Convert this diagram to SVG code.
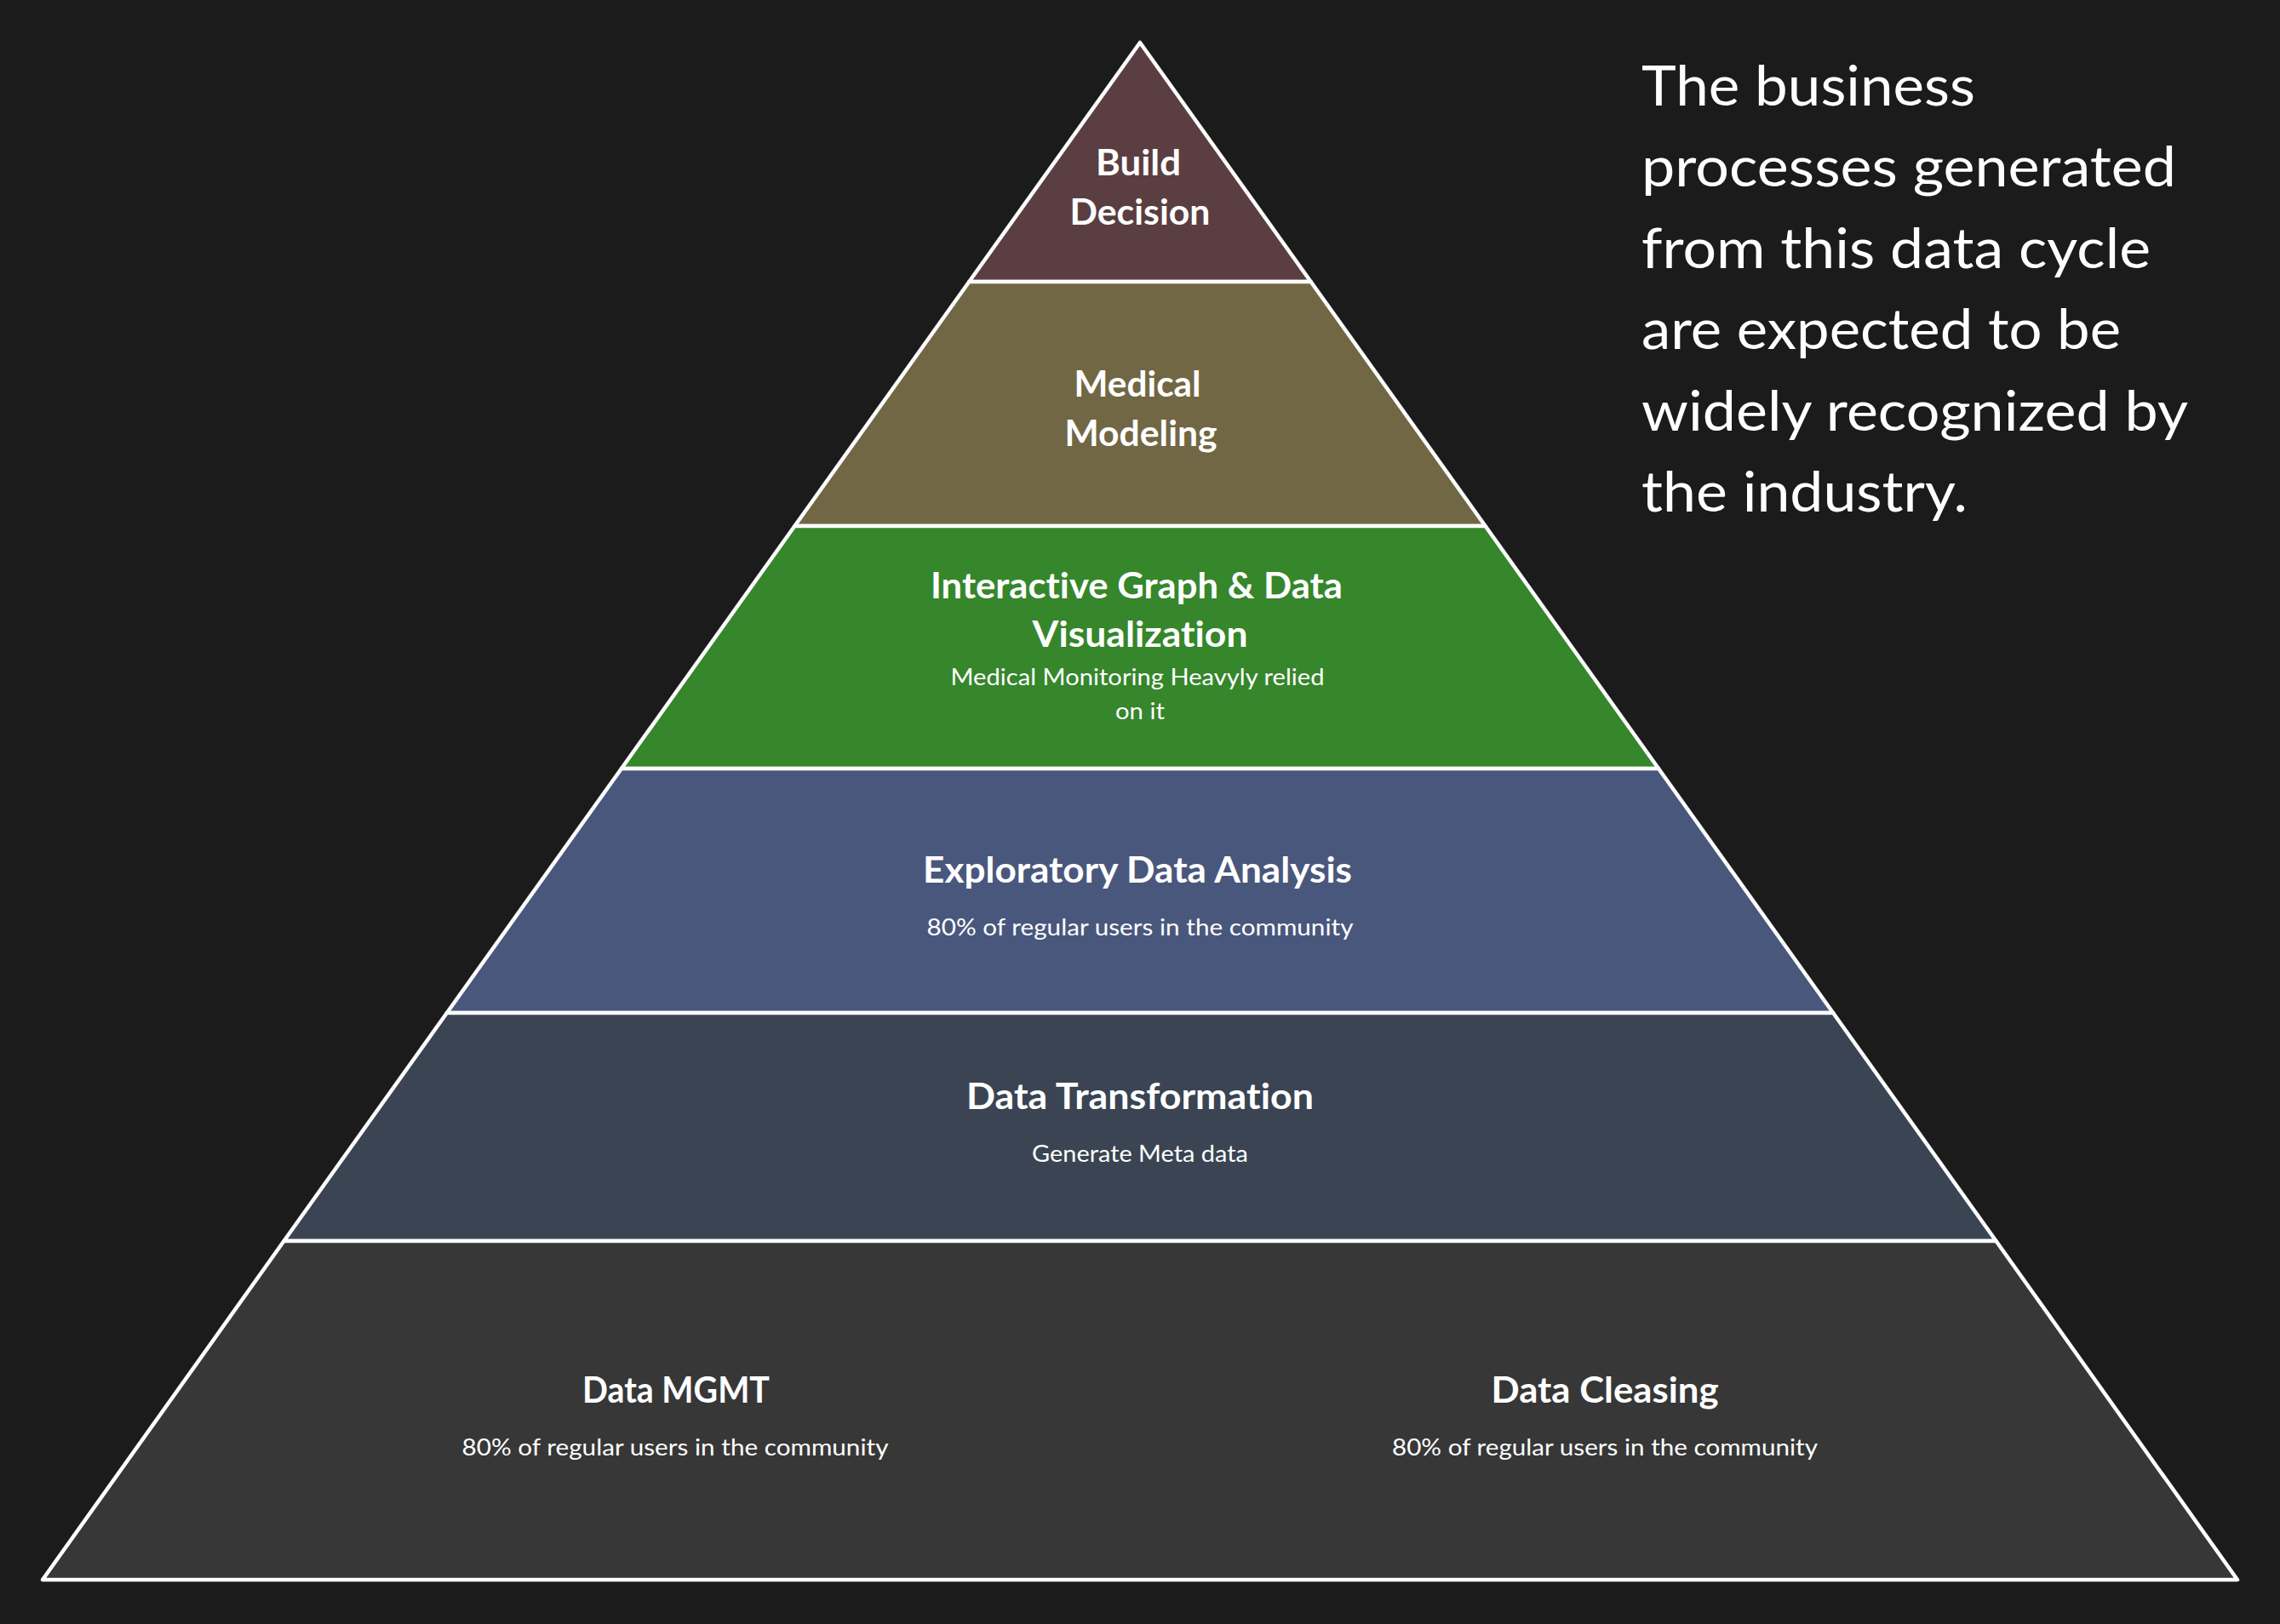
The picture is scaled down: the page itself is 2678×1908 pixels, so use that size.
<svg xmlns="http://www.w3.org/2000/svg" width="2678" height="1908" viewBox="0 0 2678 1908">
  <style>
    .layer { stroke: #ffffff; stroke-width: 4.5; stroke-linejoin: round; }
    text { font-variant-ligatures: none; font-feature-settings: "liga" 0, "dlig" 0; }
    .title { font-family: Lato, "Noto Sans", "Liberation Sans", sans-serif; font-weight: 700; font-size: 42px; fill: #ffffff; text-anchor: middle; }
    .sub { font-family: Lato, "Noto Sans", "Liberation Sans", sans-serif; font-weight: 400; font-size: 27px; fill: #ffffff; text-anchor: middle; }
    .note { font-family: Lato, "Noto Sans", "Liberation Sans", sans-serif; font-weight: 400; font-size: 66px; fill: #ffffff; }
  </style>
  <rect x="0" y="0" width="2678" height="1908" fill="#1b1b1b"/>

  <g id="level-build-decision">
    <polygon class="layer" fill="#5a3e41" points="1339,50 1539.7,331 1138.3,331"/>
    <text class="title" x="1337" y="206" textLength="100" lengthAdjust="spacingAndGlyphs">Build</text>
    <text class="title" x="1339" y="264" textLength="165" lengthAdjust="spacingAndGlyphs">Decision</text>
  </g>

  <g id="level-medical-modeling">
    <polygon class="layer" fill="#726745" points="1138.3,331 1539.7,331 1744.6,618 933.4,618"/>
    <text class="title" x="1336" y="466" textLength="149" lengthAdjust="spacingAndGlyphs">Medical</text>
    <text class="title" x="1340" y="524" textLength="179" lengthAdjust="spacingAndGlyphs">Modeling</text>
  </g>

  <g id="level-visualization">
    <polygon class="layer" fill="#36862c" points="933.4,618 1744.6,618 1948.1,903 729.9,903"/>
    <text class="title" x="1335" y="703" textLength="484" lengthAdjust="spacingAndGlyphs">Interactive Graph &amp; Data</text>
    <text class="title" x="1339" y="760" textLength="253" lengthAdjust="spacingAndGlyphs">Visualization</text>
    <text class="sub" x="1336" y="805" textLength="439" lengthAdjust="spacingAndGlyphs">Medical Monitoring Heavyly relied</text>
    <text class="sub" x="1339" y="845" textLength="58" lengthAdjust="spacingAndGlyphs">on it</text>
  </g>

  <g id="level-eda">
    <polygon class="layer" fill="#4a577d" points="729.9,903 1948.1,903 2153.1,1190 524.9,1190"/>
    <text class="title" x="1336" y="1037" textLength="504" lengthAdjust="spacingAndGlyphs">Exploratory Data Analysis</text>
    <text class="sub" x="1339" y="1099" textLength="501" lengthAdjust="spacingAndGlyphs">80% of regular users in the community</text>
  </g>

  <g id="level-transformation">
    <polygon class="layer" fill="#3a4453" points="524.9,1190 2153.1,1190 2344.5,1458 333.5,1458"/>
    <text class="title" x="1339" y="1303" textLength="408" lengthAdjust="spacingAndGlyphs">Data Transformation</text>
    <text class="sub" x="1339" y="1365" textLength="254" lengthAdjust="spacingAndGlyphs">Generate Meta data</text>
  </g>

  <g id="level-base">
    <polygon class="layer" fill="#373737" points="333.5,1458 2344.5,1458 2628,1856 50,1856"/>
    <g id="data-mgmt">
      <text class="title" x="794" y="1648" textLength="220" lengthAdjust="spacingAndGlyphs">Data MGMT</text>
      <text class="sub" x="793" y="1710" textLength="501" lengthAdjust="spacingAndGlyphs">80% of regular users in the community</text>
    </g>
    <g id="data-cleasing">
      <text class="title" x="1885" y="1648" textLength="267" lengthAdjust="spacingAndGlyphs">Data Cleasing</text>
      <text class="sub" x="1885" y="1710" textLength="500" lengthAdjust="spacingAndGlyphs">80% of regular users in the community</text>
    </g>
  </g>

  <g id="connectors"></g>

  <g id="note">
    <text class="note" x="1928" y="124" textLength="392" lengthAdjust="spacingAndGlyphs">The business</text>
    <text class="note" x="1928" y="219" textLength="628" lengthAdjust="spacingAndGlyphs">processes generated</text>
    <text class="note" x="1928" y="315" textLength="598" lengthAdjust="spacingAndGlyphs">from this data cycle</text>
    <text class="note" x="1928" y="410" textLength="563" lengthAdjust="spacingAndGlyphs">are expected to be</text>
    <text class="note" x="1928" y="506" textLength="642" lengthAdjust="spacingAndGlyphs">widely recognized by</text>
    <text class="note" x="1928" y="601" textLength="383" lengthAdjust="spacingAndGlyphs">the industry.</text>
  </g>
</svg>
